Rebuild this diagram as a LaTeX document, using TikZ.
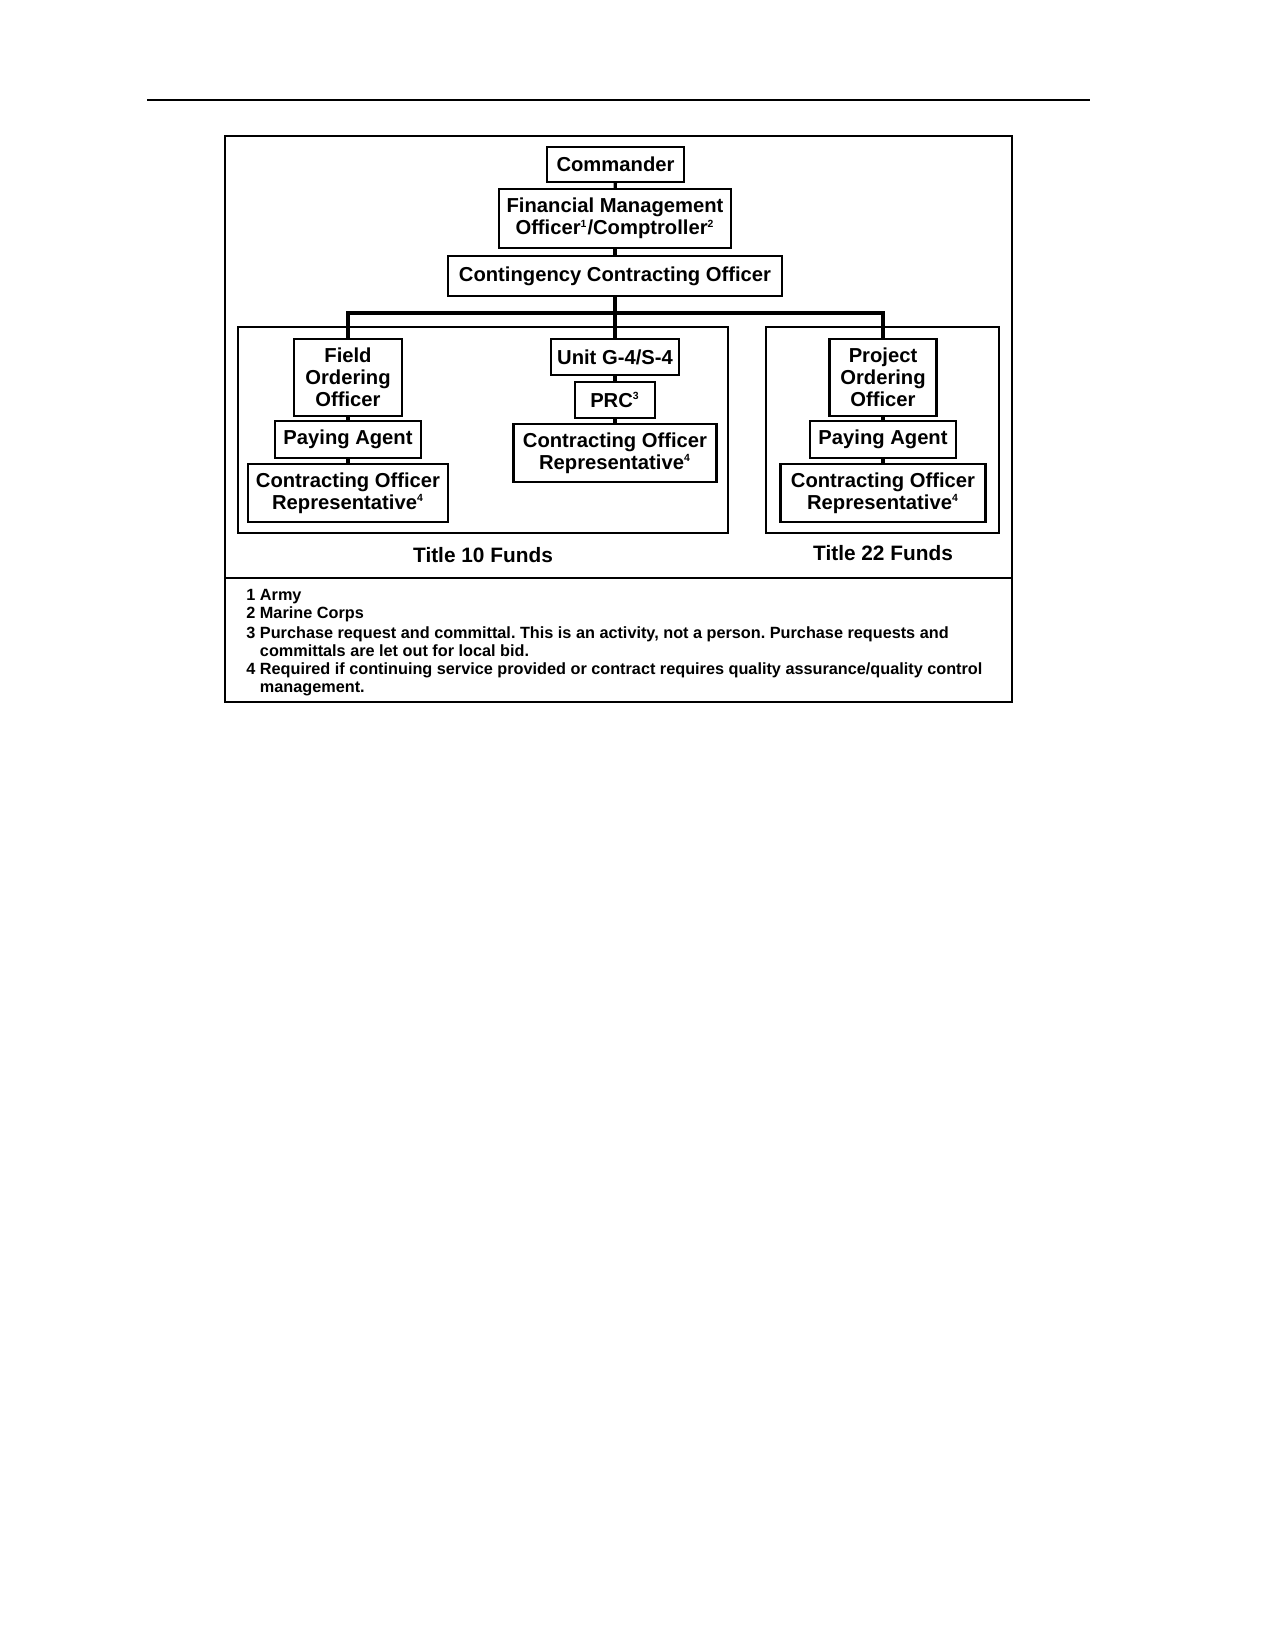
\documentclass[tikz,border=0pt]{standalone}
\usepackage{fontspec}
\setmainfont{Liberation Sans}
\frenchspacing
\begin{document}
\begin{tikzpicture}[x=0.48pt,y=-0.48pt,
  box/.style={draw,line width=1pt,inner sep=0pt,align=center,font=\bfseries\fontsize{9.7}{10.6}\selectfont},
  grp/.style={draw,line width=1pt,inner sep=0pt},
  conn/.style={line width=1.6pt},
  bus/.style={line width=2.2pt},
  fn/.style={anchor=west,inner sep=0pt,align=left,font=\bfseries\fontsize{7.8}{8.7}\selectfont},
  ttl/.style={inner sep=0pt,font=\bfseries\fontsize{10}{12}\selectfont}]
\def\u{0.48pt}
\useasboundingbox (0,0) rectangle (1275,1650);
% header rule
\coordinate (hl) at (147,100);
\coordinate (hr) at (1090,100);
\draw[line width=1.3pt] (hl) -- (hr);
% outer frame
\node[grp,minimum width=787*\u,minimum height=566*\u] (frame) at (618.5,419) {};
\coordinate (sepL) at (225,578);
\coordinate (sepR) at (1012,578);
\draw[line width=1pt] (sepL) -- (sepR);
% group boxes
\node[grp,minimum width=490*\u,minimum height=206*\u] (t10) at (483,430) {};
\node[grp,minimum width=233*\u,minimum height=206*\u] (t22) at (882.5,430) {};
% top chain
\node[box,minimum width=137*\u,minimum height=35*\u] (cmd) at (615.5,164.5) {Commander};
\node[box,minimum width=232*\u,minimum height=59*\u] (fmo) at (615,218.5) {Financial Management\\Officer\textsuperscript{\tiny 1}/Comptroller\textsuperscript{\tiny 2}};
\node[box,minimum width=334*\u,minimum height=40*\u] (cco) at (615,276) {Contingency Contracting Officer};
% left column
\node[box,minimum width=108*\u,minimum height=77*\u] (foo) at (348,377.5) {Field\\Ordering\\Officer};
\node[box,minimum width=146*\u,minimum height=37*\u] (pa1) at (348,439.5) {Paying Agent};
\node[box,minimum width=200*\u,minimum height=58*\u] (cor1) at (348,493) {Contracting Officer\\Representative\textsuperscript{\tiny 4}};
% middle column
\node[box,minimum width=128*\u,minimum height=36*\u] (unit) at (615,357) {Unit G-4/S-4};
\node[box,minimum width=80*\u,minimum height=36*\u] (prc) at (615,400) {PRC\textsuperscript{\tiny 3}};
\node[box,minimum width=203*\u,minimum height=58*\u] (cor2) at (615,453) {Contracting Officer\\Representative\textsuperscript{\tiny 4}};
% right column
\node[box,minimum width=107*\u,minimum height=77*\u] (poo) at (883,377.5) {Project\\Ordering\\Officer};
\node[box,minimum width=146*\u,minimum height=37*\u] (pa2) at (883,439.5) {Paying Agent};
\node[box,minimum width=205*\u,minimum height=58*\u] (cor3) at (883,493) {Contracting Officer\\Representative\textsuperscript{\tiny 4}};
% connectors
\draw[conn] (cmd) -- (fmo);
\draw[conn] (fmo) -- (cco);
\draw[conn] (foo) -- (pa1);
\draw[conn] (pa1) -- (cor1);
\draw[conn] (unit) -- (prc);
\draw[conn] (prc) -- (cor2);
\draw[conn] (poo) -- (pa2);
\draw[conn] (pa2) -- (cor3);
\coordinate (busy) at (615,313);
\draw[bus] (cco.south) -- (unit.north);
\draw[bus] (foo.north) -- (foo.north |- busy) -- (poo.north |- busy) -- (poo.north);
% titles
\node[ttl] (tt10) at (483,555) {Title 10 Funds};
\node[ttl] (tt22) at (883,553) {Title 22 Funds};
% footnotes
\node[fn] (fn1) at (246,596.5) {1 Army};
\node[fn] (fn2) at (246,614.5) {2 Marine Corps};
\node[fn,anchor=north west] (fn3) at (246,626.5) {3 Purchase request and committal. This is an activity, not a person. Purchase requests and\\\phantom{3 }committals are let out for local bid.};
\node[fn,anchor=north west] (fn4) at (246,662.5) {4 Required if continuing service provided or contract requires quality assurance/quality control\\\phantom{4 }management.};
\end{tikzpicture}
\end{document}
